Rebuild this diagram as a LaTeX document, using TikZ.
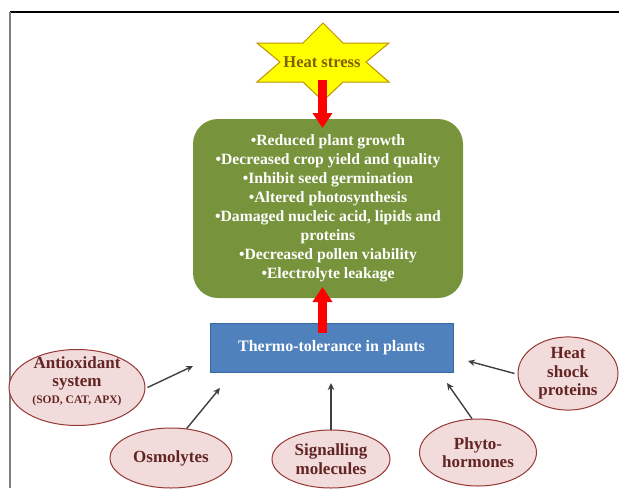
\documentclass[tikz,border=0pt]{standalone}
\usepackage{fontspec}
\setmainfont{Liberation Serif}
\usetikzlibrary{shapes.geometric,arrows.meta}
\definecolor{starfill}{HTML}{FFFF00}
\definecolor{starline}{HTML}{BF9000}
\definecolor{startext}{HTML}{806000}
\definecolor{greenbox}{HTML}{77933C}
\definecolor{bluebox}{HTML}{4F81BD}
\definecolor{blueline}{HTML}{3A67A0}
\definecolor{ellfill}{HTML}{F2DCDB}
\definecolor{ellline}{HTML}{953735}
\definecolor{elltext}{HTML}{632523}
\definecolor{arrgray}{HTML}{404040}
\tikzset{
  ellnode/.style={ellipse, draw=ellline, line width=1pt, fill=ellfill, inner sep=0pt,
    text=elltext, font=\bfseries\fontsize{17}{18.5}\selectfont, align=center},
  infarrow/.style={draw=arrgray, line width=1.4pt, -{Stealth[length=7pt,width=6.5pt]}},
  redarrow/.style={draw=red, line width=9pt, -{Triangle[length=15pt,width=19pt]}},
}
\begin{document}
\begin{tikzpicture}[x=1pt,y=-1pt]
\useasboundingbox (0,0) rectangle (619,488);
\fill[white] (0,0) rectangle (619,488);
% frame lines
\draw[black, line width=1.2pt] (10,12) -- (619,12);
\draw[gray, line width=1.6pt] (10,12) -- (10,488);
% star
\draw[fill=starfill, draw=starline, line width=1pt]
  (323,23) -- (343,43) -- (389,43) -- (366,62) -- (389,82) -- (343,82) -- (323,101)
  -- (303,82) -- (257,82) -- (280,62) -- (257,43) -- (303,43) -- cycle;
\node[text=startext, font=\bfseries\fontsize{16.5}{18}\selectfont] (heat) at (322,62) {Heat stress};
% green box
\node[fill=greenbox, rounded corners=25pt, minimum width=270pt, minimum height=179pt,
  inner sep=0pt, text=white, align=center,
  font=\bfseries\fontsize{15.7}{19}\selectfont] (effects) at (328,208.5)
  {•Reduced plant growth\\
   •Decreased crop yield and quality\\
   •Inhibit seed germination\\
   •Altered photosynthesis\\
   •Damaged nucleic acid, lipids and\\
   proteins\\
   •Decreased pollen viability\\
   •Electrolyte leakage};
% blue box
\node[fill=bluebox, draw=blueline, line width=0.6pt, minimum width=243pt, minimum height=49pt,
  inner sep=0pt, text=white, font=\bfseries\fontsize{16}{19}\selectfont] (thermo) at (331.5,347.5)
  {Thermo-tolerance in plants};
% red arrows
\coordinate (r1s) at (322.5,80);
\coordinate (r1e) at (322.5,128);
\coordinate (r2s) at (322.5,333);
\coordinate (r2e) at (322.5,287);
\draw[redarrow] (r1s) -- (r1e);
\draw[redarrow] (r2s) -- (r2e);
% ellipses
\node[ellnode, minimum width=136pt, minimum height=76pt] (ant) at (77,387.5) {};
\node[text=elltext, align=center, font=\bfseries\fontsize{17}{18.5}\selectfont, inner sep=0pt] (antt) at (77,381)
  {Antioxidant\\system\\[-2pt]{\fontsize{11.5}{12}\selectfont(SOD, CAT, APX)}};
\node[ellnode, minimum width=122pt, minimum height=60pt] (osm) at (171,458) {Osmolytes};
\node[ellnode, minimum width=118pt, minimum height=58pt] (sig) at (331,459) {Signalling\\molecules};
\node[ellnode, minimum width=117pt, minimum height=67pt] (phy) at (478,452.5) {Phyto-\\hormones};
\node[ellnode, minimum width=100pt, minimum height=69pt] (hsp) at (568,373.5) {Heat\\shock\\proteins};
% arrow tips
\coordinate (t1) at (193,366);
\coordinate (t2) at (220,388);
\coordinate (t3) at (331,383);
\coordinate (t4) at (447,383);
\coordinate (t5) at (468,361);
\draw[infarrow] ([xshift=2pt]ant.east) -- (t1);
\draw[infarrow] (osm.62) -- (t2);
\draw[infarrow] (sig.north) -- (t3);
\draw[infarrow] (phy.100) -- (t4);
\draw[infarrow] ([xshift=-3pt]hsp.west) -- (t5);
\end{tikzpicture}
\end{document}
